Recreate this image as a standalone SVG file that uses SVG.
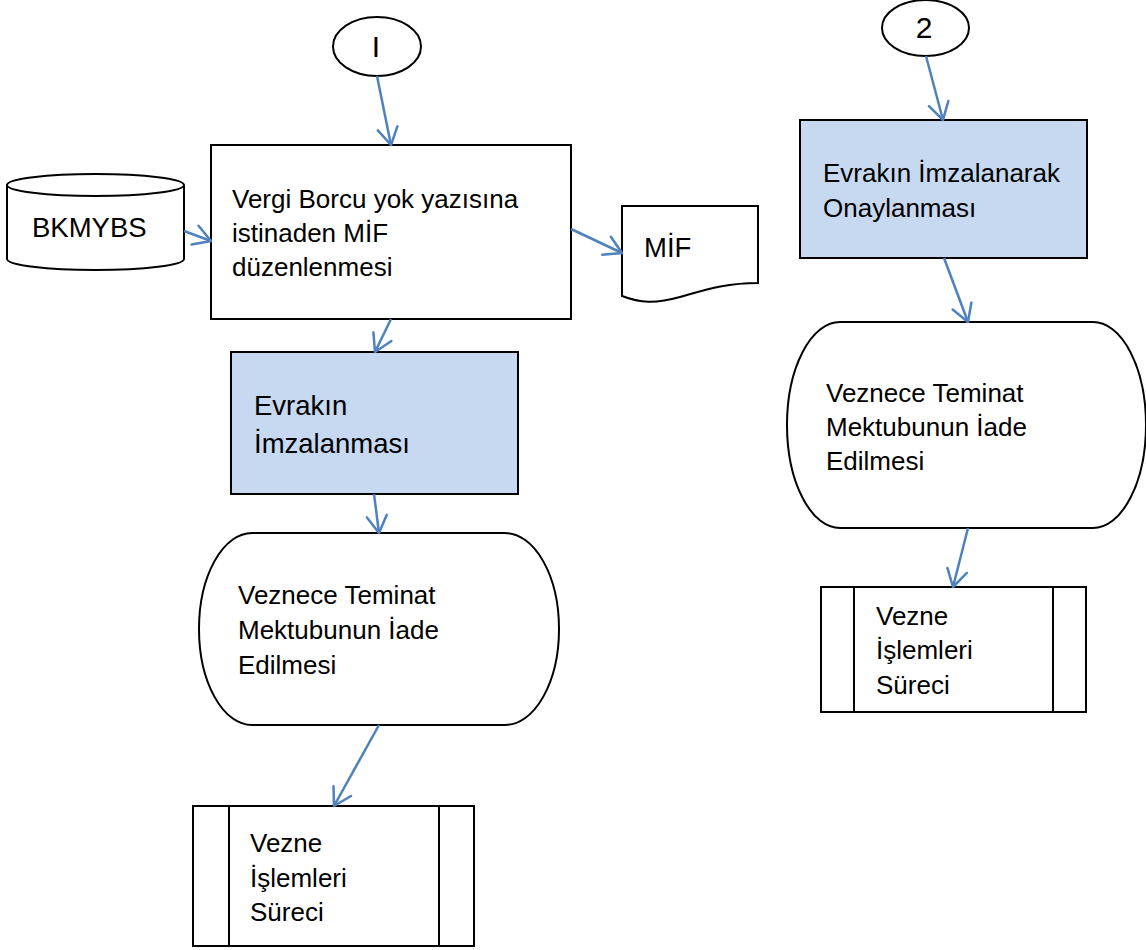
<svg xmlns="http://www.w3.org/2000/svg" width="1146" height="950" viewBox="0 0 1146 950">
  <style>
    .shape { fill: #ffffff; stroke: #000000; stroke-width: 2; }
    .blue { fill: #C6D9F1; stroke: #000000; stroke-width: 2; }
    .txt { font-family: "Liberation Sans", Arial, sans-serif; font-size: 26px; fill: #000000; }
    .big { font-size: 27.5px; }
    .num { font-size: 30px; }
    .conn { stroke: #4F81BD; stroke-width: 2.5; fill: none; marker-end: url(#arrow); }
  </style>
  <defs>
    <marker id="arrow" viewBox="-20 -12 22 24" refX="0" refY="0" markerWidth="22" markerHeight="24" markerUnits="userSpaceOnUse" orient="auto">
      <path d="M-17,-10 L0,0 L-17,10" fill="none" stroke="#4F81BD" stroke-width="2.5" stroke-linejoin="round" stroke-linecap="round"/>
    </marker>
  </defs>
  <rect x="0" y="0" width="1146" height="950" fill="#ffffff"/>

  <g id="connector1">
    <ellipse class="shape" cx="377" cy="46.5" rx="44" ry="29.5"/>
    <text class="txt num" x="376" y="57" text-anchor="middle">I</text>
  </g>
  <g id="connector2">
    <ellipse class="shape" cx="925.5" cy="28" rx="43.5" ry="28"/>
    <text class="txt num" x="924" y="38" text-anchor="middle">2</text>
  </g>

  <g id="bkmybs">
    <path class="shape" d="M7,185 V259 A88.5,11 0 0 0 184,259 V185"/>
    <ellipse class="shape" cx="95.5" cy="185" rx="88.5" ry="11"/>
    <text class="txt big" x="32" y="237">BKMYBS</text>
  </g>

  <g id="mif-duzenle">
    <rect class="shape" x="211" y="145" width="360" height="174"/>
    <text class="txt" x="232" y="208">Vergi Borcu yok yazısına</text>
    <text class="txt" x="232" y="242">istinaden MİF</text>
    <text class="txt" x="232" y="276">düzenlenmesi</text>
  </g>

  <g id="mif-doc">
    <path class="shape" d="M622,206 H758 V283 C725,283 705,290 680,297 C655,304 640,303 622,296 Z"/>
    <text class="txt big" x="644" y="257">MİF</text>
  </g>

  <g id="imzalanma">
    <rect class="blue" x="231" y="352" width="287" height="142"/>
    <text class="txt big" x="254" y="415">Evrakın</text>
    <text class="txt big" x="254" y="453">İmzalanması</text>
  </g>

  <g id="iade1">
    <path class="shape" d="M252,533 H505 A54,96 0 0 1 505,725 H252 A53,96 0 0 1 252,533 Z"/>
    <text class="txt" x="238" y="604">Veznece Teminat</text>
    <text class="txt" x="238" y="639">Mektubunun İade</text>
    <text class="txt" x="238" y="674">Edilmesi</text>
  </g>

  <g id="vezne1">
    <rect class="shape" x="193" y="806" width="281" height="140"/>
    <line class="shape" x1="229" y1="806" x2="229" y2="946"/>
    <line class="shape" x1="439" y1="806" x2="439" y2="946"/>
    <text class="txt" x="250" y="852">Vezne</text>
    <text class="txt" x="250" y="887">İşlemleri</text>
    <text class="txt" x="250" y="921">Süreci</text>
  </g>

  <g id="onay">
    <rect class="blue" x="800" y="120" width="287" height="138"/>
    <text class="txt" x="823" y="182">Evrakın İmzalanarak</text>
    <text class="txt" x="823" y="217">Onaylanması</text>
  </g>

  <g id="iade2">
    <path class="shape" d="M840,322 H1093 A53,103 0 0 1 1093,528 H840 A53,103 0 0 1 840,322 Z"/>
    <text class="txt" x="826" y="402">Veznece Teminat</text>
    <text class="txt" x="826" y="436">Mektubunun İade</text>
    <text class="txt" x="826" y="470">Edilmesi</text>
  </g>

  <g id="vezne2">
    <rect class="shape" x="821" y="587" width="265" height="125"/>
    <line class="shape" x1="854" y1="587" x2="854" y2="712"/>
    <line class="shape" x1="1053" y1="587" x2="1053" y2="712"/>
    <text class="txt" x="876" y="625">Vezne</text>
    <text class="txt" x="876" y="659">İşlemleri</text>
    <text class="txt" x="876" y="694">Süreci</text>
  </g>

  <g id="connectors">
    <line class="conn" x1="377" y1="76" x2="391" y2="145"/>
    <line class="conn" x1="184" y1="231" x2="211" y2="241"/>
    <line class="conn" x1="571" y1="229" x2="622" y2="253"/>
    <line class="conn" x1="391" y1="319" x2="375" y2="352"/>
    <line class="conn" x1="374" y1="494" x2="379" y2="533"/>
    <line class="conn" x1="379" y1="725" x2="334" y2="806"/>
    <line class="conn" x1="926" y1="56" x2="943" y2="120"/>
    <line class="conn" x1="944" y1="258" x2="968" y2="322"/>
    <line class="conn" x1="968" y1="528" x2="953" y2="587"/>
  </g>
</svg>
